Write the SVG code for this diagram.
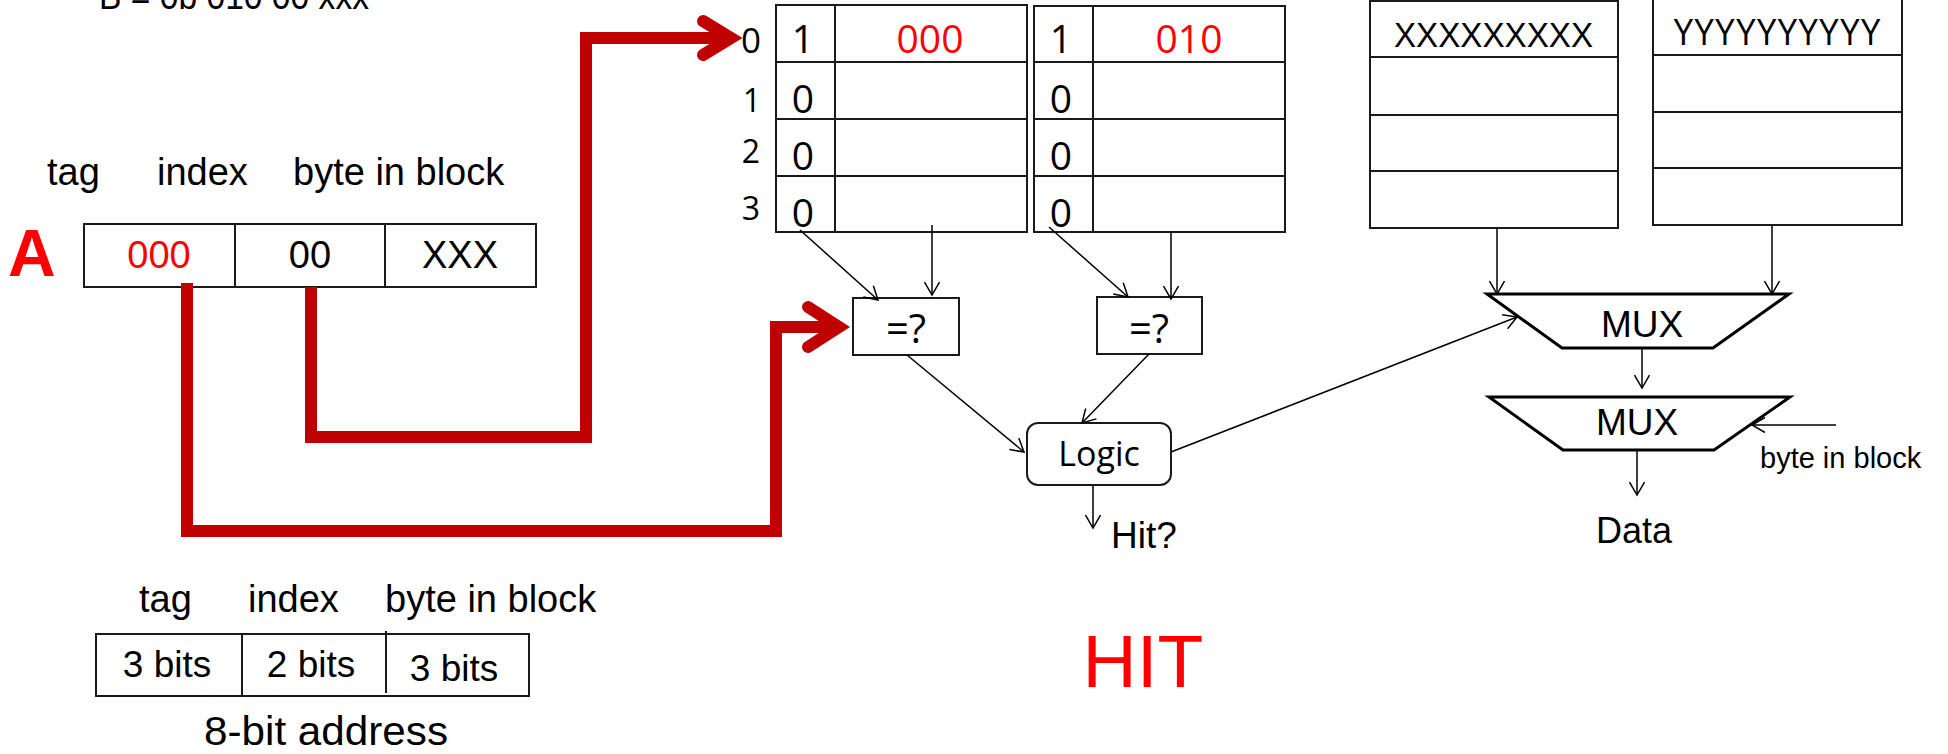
<svg xmlns="http://www.w3.org/2000/svg" width="1948" height="754" viewBox="0 0 1948 754">
  <defs>
    <style>
      .sans { font-family: "Liberation Sans", Arial, sans-serif; fill: #000; }
      .cal { font-family: "Open Sans", "Liberation Sans", sans-serif; fill: #000; }
      .red { fill: #FF0000; }
      .box { fill: #fff; stroke: #1a1a1a; stroke-width: 2; }
      .grid { stroke: #1a1a1a; stroke-width: 2; fill: none; }
      .wire { stroke: #000; stroke-width: 1.5; fill: none; marker-end: url(#open); }
      .bus { stroke: #C00000; stroke-width: 12; fill: none; stroke-linejoin: miter; stroke-linecap: butt; }
      .head { stroke: #C00000; stroke-width: 12; fill: none; stroke-linejoin: miter; stroke-miterlimit: 10; stroke-linecap: round; }
      .mux { fill: #fff; stroke: #000; stroke-width: 3; stroke-linejoin: miter; }
    </style>
    <marker id="open" viewBox="0 0 16 16" refX="14" refY="8" markerWidth="16" markerHeight="16" markerUnits="userSpaceOnUse" orient="auto">
      <path d="M1,0.5 L14,8 L1,15.5" fill="none" stroke="#000" stroke-width="1.5"/>
    </marker>
  </defs>

  <rect width="1948" height="754" fill="#fff"/>

  <!-- second address, partly above the top edge -->
  <text class="sans" x="99" y="9" font-size="36" textLength="270" lengthAdjust="spacingAndGlyphs">B = 0b 010 00 xxx</text>

  <!-- address A split into fields -->
  <g id="addr-a">
    <text class="sans" x="47" y="185" font-size="38">tag</text>
    <text class="sans" x="157" y="185" font-size="38">index</text>
    <text class="sans" x="293" y="185" font-size="38">byte in block</text>
    <text class="sans red" x="8" y="276" font-size="66" font-weight="bold">A</text>
    <rect class="box" x="84" y="224" width="452" height="63"/>
    <line class="grid" x1="235" y1="224" x2="235" y2="287"/>
    <line class="grid" x1="385" y1="224" x2="385" y2="287"/>
    <text class="sans red" x="159" y="268" font-size="38" text-anchor="middle">000</text>
    <text class="sans" x="310" y="268" font-size="38" text-anchor="middle">00</text>
    <text class="sans" x="460" y="268" font-size="38" text-anchor="middle">XXX</text>
  </g>

  <!-- set index labels -->
  <g id="set-index">
    <text class="cal" x="751" y="53" font-size="35" text-anchor="middle">0</text>
    <text class="cal" x="752" y="112" font-size="32" text-anchor="middle">1</text>
    <text class="cal" x="751" y="163" font-size="32" text-anchor="middle">2</text>
    <text class="cal" x="751" y="220" font-size="32" text-anchor="middle">3</text>
  </g>

  <!-- tag store, way 0 -->
  <g id="tag-way0">
    <rect class="box" x="776" y="5" width="251" height="227"/>
    <line class="grid" x1="835" y1="5" x2="835" y2="232"/>
    <line class="grid" x1="776" y1="62" x2="1027" y2="62"/>
    <line class="grid" x1="776" y1="119" x2="1027" y2="119"/>
    <line class="grid" x1="776" y1="176" x2="1027" y2="176"/>
    <text class="cal" x="803" y="53" font-size="39" text-anchor="middle">1</text>
    <text class="cal red" x="930" y="53" font-size="39" text-anchor="middle">000</text>
    <text class="cal" x="803" y="113" font-size="39" text-anchor="middle">0</text>
    <text class="cal" x="803" y="170" font-size="39" text-anchor="middle">0</text>
    <text class="cal" x="803" y="227" font-size="39" text-anchor="middle">0</text>
  </g>

  <!-- tag store, way 1 -->
  <g id="tag-way1">
    <rect class="box" x="1034" y="6" width="251" height="226"/>
    <line class="grid" x1="1093" y1="6" x2="1093" y2="232"/>
    <line class="grid" x1="1034" y1="62" x2="1285" y2="62"/>
    <line class="grid" x1="1034" y1="119" x2="1285" y2="119"/>
    <line class="grid" x1="1034" y1="176" x2="1285" y2="176"/>
    <text class="cal" x="1061" y="53" font-size="39" text-anchor="middle">1</text>
    <text class="cal red" x="1189" y="53" font-size="39" text-anchor="middle">010</text>
    <text class="cal" x="1061" y="113" font-size="39" text-anchor="middle">0</text>
    <text class="cal" x="1061" y="170" font-size="39" text-anchor="middle">0</text>
    <text class="cal" x="1061" y="227" font-size="39" text-anchor="middle">0</text>
  </g>

  <!-- data store, way 0 -->
  <g id="data-way0">
    <rect class="box" x="1370" y="1" width="248" height="227"/>
    <line class="grid" x1="1370" y1="57" x2="1618" y2="57"/>
    <line class="grid" x1="1370" y1="115" x2="1618" y2="115"/>
    <line class="grid" x1="1370" y1="171" x2="1618" y2="171"/>
    <text class="sans" x="1394" y="47" font-size="35" textLength="199" lengthAdjust="spacingAndGlyphs">XXXXXXXXX</text>
  </g>

  <!-- data store, way 1 -->
  <g id="data-way1">
    <rect class="box" x="1653" y="-10" width="249" height="235"/>
    <line class="grid" x1="1653" y1="55" x2="1902" y2="55"/>
    <line class="grid" x1="1653" y1="112" x2="1902" y2="112"/>
    <line class="grid" x1="1653" y1="168" x2="1902" y2="168"/>
    <text class="sans" x="1673" y="45" font-size="36" textLength="208" lengthAdjust="spacingAndGlyphs">YYYYYYYYYY</text>
  </g>

  <!-- tag comparators -->
  <g id="cmp0">
    <rect class="box" x="853" y="298" width="106" height="57"/>
    <text class="cal" x="906" y="343" font-size="40" text-anchor="middle">=?</text>
  </g>
  <g id="cmp1">
    <rect class="box" x="1097" y="297" width="105" height="57"/>
    <text class="cal" x="1149" y="343" font-size="40" text-anchor="middle">=?</text>
  </g>

  <!-- hit logic -->
  <g id="logic">
    <rect class="box" x="1027" y="423" width="144" height="62" rx="11"/>
    <text class="cal" x="1099" y="466" font-size="34" text-anchor="middle">Logic</text>
  </g>
  <text id="hit-out" class="sans" x="1111" y="548" font-size="37">Hit?</text>

  <!-- way select mux -->
  <g id="mux-way">
    <polygon class="mux" points="1487,294 1789,294 1713,348 1562,348"/>
    <text class="sans" x="1642" y="337" font-size="37" text-anchor="middle">MUX</text>
  </g>

  <!-- byte select mux -->
  <g id="mux-byte">
    <polygon class="mux" points="1489,397 1790,397 1714,450 1563,450"/>
    <text class="sans" x="1637" y="435" font-size="37" text-anchor="middle">MUX</text>
    <text class="sans" x="1760" y="468" font-size="29">byte in block</text>
  </g>
  <text id="data-out" class="sans" x="1634" y="543" font-size="36" text-anchor="middle">Data</text>

  <!-- address format legend -->
  <g id="addr-format">
    <text class="sans" x="139" y="612" font-size="38">tag</text>
    <text class="sans" x="248" y="612" font-size="38">index</text>
    <text class="sans" x="385" y="612" font-size="38">byte in block</text>
    <rect class="box" x="96" y="634" width="433" height="62"/>
    <line class="grid" x1="242" y1="634" x2="242" y2="696"/>
    <line class="grid" x1="386" y1="631" x2="386" y2="693"/>
    <text class="sans" x="167" y="677" font-size="37" text-anchor="middle">3 bits</text>
    <text class="sans" x="311" y="677" font-size="37" text-anchor="middle">2 bits</text>
    <text class="sans" x="454" y="681" font-size="37" text-anchor="middle">3 bits</text>
    <text class="sans" x="204" y="745" font-size="40" textLength="244" lengthAdjust="spacingAndGlyphs">8-bit address</text>
  </g>

  <!-- result -->
  <text id="result" class="sans red" x="1143" y="687" font-size="75" text-anchor="middle">HIT</text>

  <!-- connectors -->
  <g id="connectors">
    <!-- index field selects the set -->
    <path class="bus" d="M311,287 V437 H586 V38 H731"/>
    <path class="head" d="M703,21 L731,38 L703,55"/>
    <!-- tag field goes to the comparator -->
    <path class="bus" d="M187,283 V531 H776 V327 H839"/>
    <path class="head" d="M808,307 L839,327 L808,347"/>

    <path class="wire" d="M800,230 L878,300"/>
    <path class="wire" d="M932,225 L932,295"/>
    <path class="wire" d="M1049,227 L1128,297"/>
    <path class="wire" d="M1171,232 L1171,299"/>
    <path class="wire" d="M907,355 L1024,452"/>
    <path class="wire" d="M1149,354 L1082,423"/>
    <path class="wire" d="M1093,485 L1093,528"/>
    <path class="wire" d="M1171,452 L1517,317"/>
    <path class="wire" d="M1497,228 L1497,294"/>
    <path class="wire" d="M1772,225 L1772,294"/>
    <path class="wire" d="M1642,348 L1642,388"/>
    <path class="wire" d="M1836,425 L1752,425"/>
    <path class="wire" d="M1637,450 L1637,495"/>
  </g>
</svg>
